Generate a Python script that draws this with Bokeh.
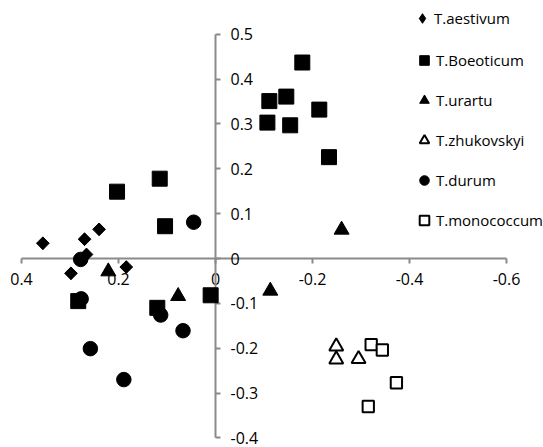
import numpy as np
from bokeh.plotting import figure
from bokeh.models import Range1d, LinearAxis, FixedTicker, Legend, LegendItem
from bokeh.embed import file_html
from bokeh.resources import INLINE

# ---- data ----
aestivum_x = [0.356, 0.270, 0.240, 0.266, 0.298, 0.184]
aestivum_y = [0.034, 0.043, 0.065, 0.009, -0.033, -0.019]

boeoticum_x = [-0.179, -0.111, -0.146, -0.107, -0.154, -0.214, -0.234,
               0.203, 0.115, 0.104, 0.010, 0.120, 0.283]
boeoticum_y = [0.437, 0.351, 0.361, 0.303, 0.297, 0.332, 0.226,
               0.149, 0.178, 0.072, -0.082, -0.110, -0.095]

urartu_x = [0.221, 0.077, -0.113, -0.260]
urartu_y = [-0.029, -0.084, -0.072, 0.064]

zhukovskyi_x = [-0.249, -0.249, -0.295]
zhukovskyi_y = [-0.196, -0.225, -0.224]

durum_x = [0.277, 0.113, 0.067, 0.258, 0.189, 0.045, 0.278]
durum_y = [-0.090, -0.126, -0.161, -0.201, -0.270, 0.081, -0.002]

monococcum_x = [-0.321, -0.344, -0.373, -0.315]
monococcum_y = [-0.192, -0.204, -0.277, -0.330]

x_ticks = [0.4, 0.2, 0.0, -0.2, -0.4, -0.6]
x_labels = ["0.4", "0.2", "0", "-0.2", "-0.4", "-0.6"]
y_ticks = [-0.4, -0.3, -0.2, -0.1, 0.0, 0.1, 0.2, 0.3, 0.4, 0.5]
y_labels = ["-0.4", "-0.3", "-0.2", "-0.1", "0", "0.1", "0.2", "0.3", "0.4", "0.5"]

names = ["T.aestivum", "T.Boeoticum", "T.urartu", "T.zhukovskyi", "T.durum", "T.monococcum"]

W, H = 543, 447
p = figure(width=W, height=H, output_backend="svg", toolbar_location=None,
           x_range=Range1d(0.4433, -0.6763), y_range=Range1d(-0.4214, 0.5753),
           x_axis_location=None, y_axis_location=None,
           min_border=0, min_border_left=0, min_border_right=0,
           min_border_top=0, min_border_bottom=0)
p.outline_line_color = None
p.grid.visible = False
p.background_fill_color = "white"
p.border_fill_color = "white"

AX = "#8a8a8a"
FONT = "Open Sans"

xaxis = LinearAxis(fixed_location=0, bounds=(-0.6, 0.4),
                   ticker=FixedTicker(ticks=x_ticks, minor_ticks=[]),
                   major_label_overrides={t: l for t, l in zip(x_ticks, x_labels)})
yaxis = LinearAxis(fixed_location=0, bounds=(-0.4, 0.5),
                   ticker=FixedTicker(ticks=y_ticks, minor_ticks=[]),
                   major_label_overrides={t: l for t, l in zip(y_ticks, y_labels)})
for ax, standoff in ((xaxis, 9), (yaxis, 10)):
    ax.level = "underlay"
    ax.axis_line_color = AX
    ax.axis_line_width = 2
    ax.major_tick_line_color = AX
    ax.major_tick_line_width = 2
    ax.major_tick_out = 5
    ax.major_tick_in = 0
    ax.minor_tick_line_color = None
    ax.major_label_text_font = FONT
    ax.major_label_text_font_size = "16px"
    ax.major_label_text_color = "#000000"
    ax.major_label_standoff = standoff
p.add_layout(xaxis, "below")
p.add_layout(yaxis, "right")

# legend key for the diamonds (same points, hidden under the real markers)
r_aes_key = p.scatter(aestivum_x, aestivum_y, marker="diamond", size=12,
                      fill_color="black", line_color="black", line_width=1)
r_aes = p.scatter(aestivum_x, aestivum_y, marker="square", angle=np.pi / 4, size=9,
                  fill_color="black", line_color="black", line_width=1)
r_boe = p.scatter(boeoticum_x, boeoticum_y, marker="square", size=15,
                  fill_color="black", line_color="black", line_width=1)
r_ura = p.scatter(urartu_x, urartu_y, marker="triangle", size=15,
                  fill_color="black", line_color="black", line_width=1)
r_zhu = p.scatter(zhukovskyi_x, zhukovskyi_y, marker="triangle", size=14,
                  fill_color="white", line_color="black", line_width=2)
r_dur = p.scatter(durum_x, durum_y, marker="circle", size=14.5,
                  fill_color="black", line_color="black", line_width=1)
r_mon = p.scatter(monococcum_x, monococcum_y, marker="square", size=11.3,
                  fill_color="white", line_color="black", line_width=2)

def style_legend(lg):
    lg.border_line_color = None
    lg.background_fill_alpha = 0
    lg.padding = 0
    lg.margin = 0
    lg.label_text_font = FONT
    lg.label_text_font_size = "15px"
    lg.label_text_color = "#000000"

leg_main = Legend(items=[LegendItem(label=n, renderers=[r]) for n, r in
                         zip(names[1:], [r_boe, r_ura, r_zhu, r_dur, r_mon])],
                  location=(412, 215), glyph_width=24, glyph_height=24,
                  label_height=24, spacing=16, label_standoff=-6)
style_legend(leg_main)
leg_aes = Legend(items=[LegendItem(label=names[0], renderers=[r_aes_key])],
                 location=(410, 417), glyph_width=24, glyph_height=24,
                 label_height=24, spacing=0, label_standoff=-4)
style_legend(leg_aes)
p.add_layout(leg_aes, "center")
p.add_layout(leg_main, "center")

open("out.html", "w").write(file_html(p, INLINE))
